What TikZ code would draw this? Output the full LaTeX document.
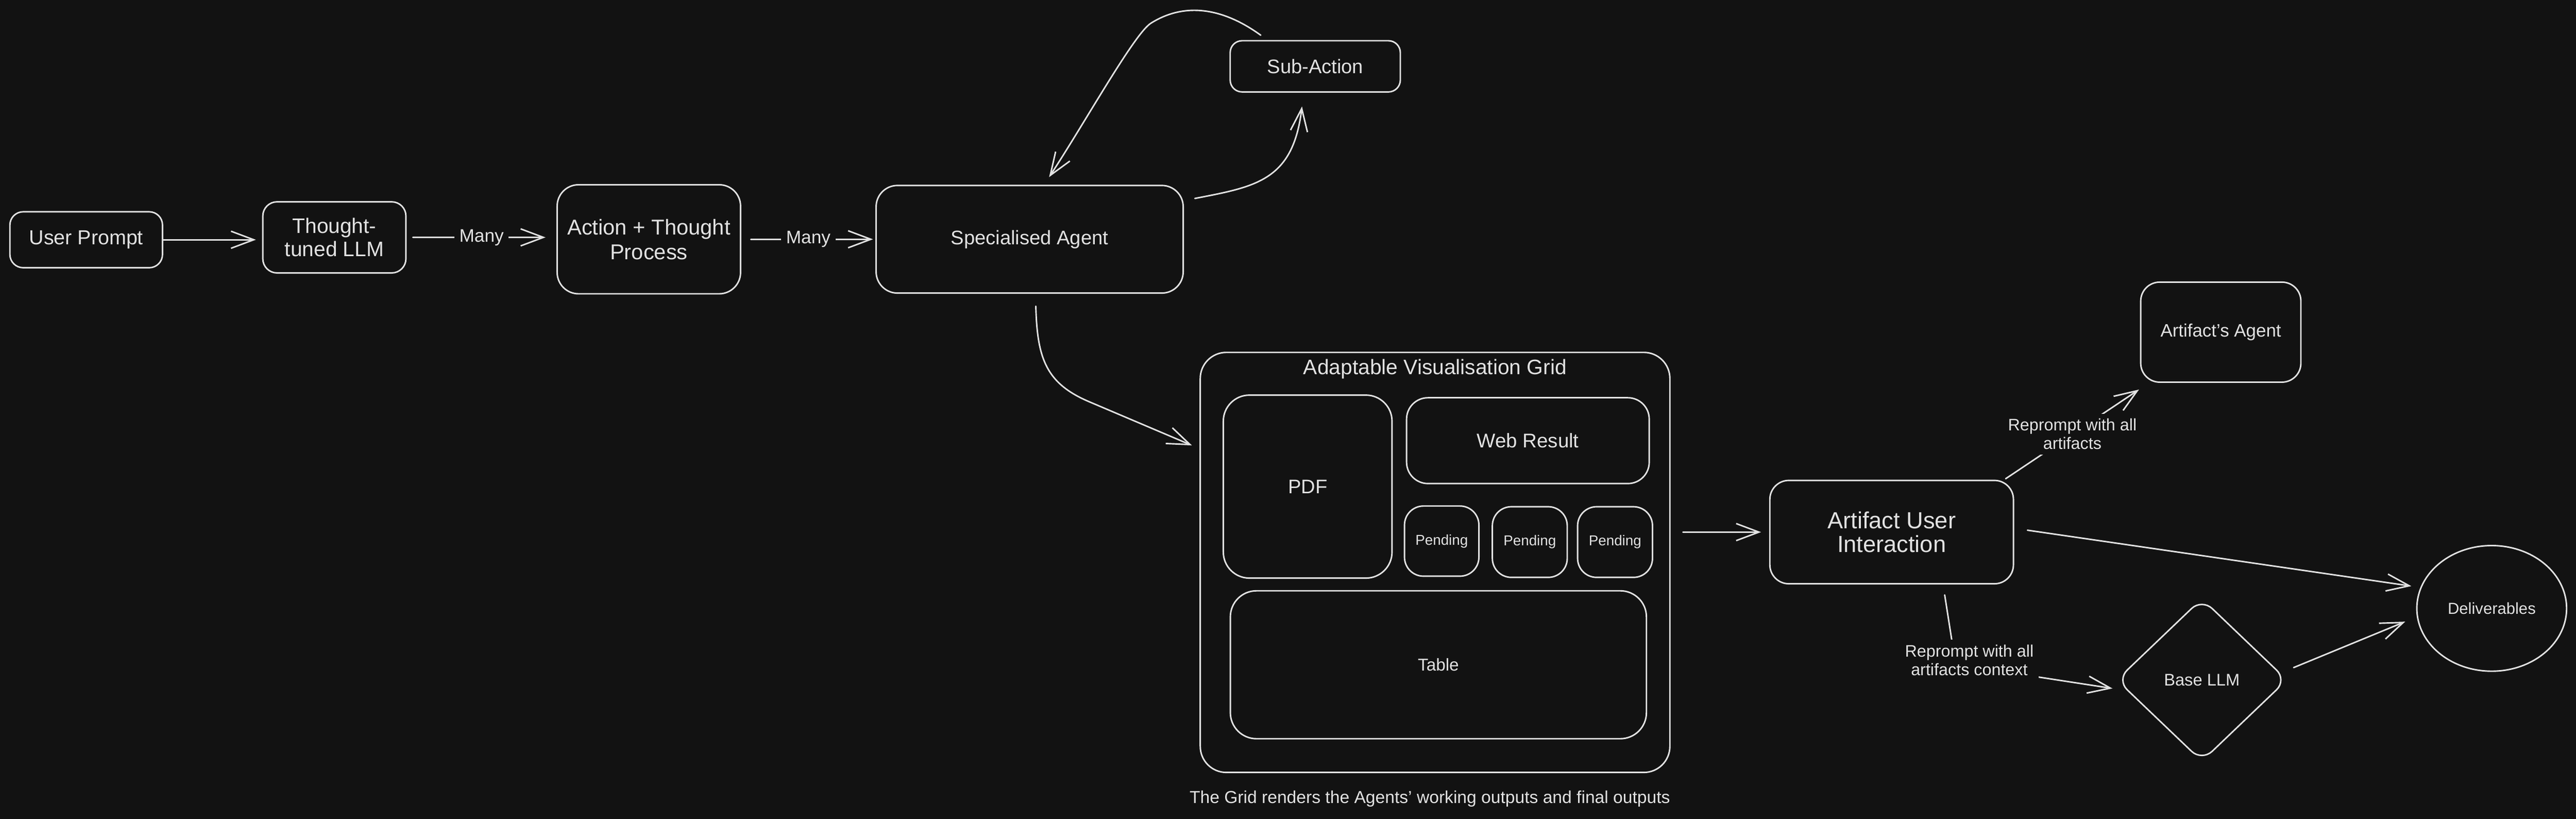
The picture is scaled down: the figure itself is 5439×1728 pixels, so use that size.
\documentclass[tikz,border=0pt]{standalone}
\usepackage{fontspec}
\setmainfont{Liberation Sans}
\usetikzlibrary{arrows.meta,shapes.geometric,calc}
\definecolor{bg}{HTML}{121212}
\definecolor{fg}{HTML}{E2E2E2}
\tikzset{
  box/.style={draw=fg, line width=0.9pt, rounded corners=0.4cm, text=fg, align=center, inner sep=0pt, fill=bg},
  arr/.style={draw=fg, line width=0.9pt, line cap=round, -{Straight Barb[length=0.48cm,width=0.36cm,line width=0.9pt]}},
  lab/.style={fill=bg, text=fg, inner sep=3pt, align=center},
}
\begin{document}
\begin{tikzpicture}[x=0.01cm,y=-0.01cm]
\useasboundingbox[fill=bg] (0,0) rectangle (5439,1728);

% top row
\node[box, minimum width=3.22cm, minimum height=1.18cm, rounded corners=0.28cm, font=\fontsize{12.2}{14}\selectfont] (up) at (182,506) {User Prompt};
\node[box, minimum width=3.02cm, minimum height=1.5cm, rounded corners=0.3cm, font=\fontsize{12.6}{13.8}\selectfont] (ttl) at (706,501) {Thought-\\tuned LLM};
\node[box, minimum width=3.87cm, minimum height=2.3cm, rounded corners=0.45cm, font=\fontsize{12.9}{14.8}\selectfont] (atp) at (1370,505) {Action + Thought\\Process};
\node[box, minimum width=6.48cm, minimum height=2.27cm, rounded corners=0.45cm, font=\fontsize{11.8}{14}\selectfont] (sa) at (2174,505) {Specialised Agent};
\node[box, minimum width=3.59cm, minimum height=1.08cm, rounded corners=0.25cm, font=\fontsize{11.8}{14}\selectfont] (sub) at (2777,140) {Sub-Action};

% grid
\node[box, minimum width=9.91cm, minimum height=8.86cm, rounded corners=0.55cm] (grid) at (3030,1187) {};
\node[text=fg, font=\fontsize{12.6}{14}\selectfont] (gt) at (3030,779) {Adaptable Visualisation Grid};
\node[box, minimum width=3.56cm, minimum height=3.86cm, rounded corners=0.55cm, font=\fontsize{11.8}{14}\selectfont] (pdf) at (2761,1027) {PDF};
\node[box, minimum width=5.12cm, minimum height=1.81cm, rounded corners=0.45cm, font=\fontsize{11.9}{14}\selectfont] (web) at (3226,930) {Web Result};
\node[box, minimum width=1.57cm, minimum height=1.48cm, rounded corners=0.4cm, font=\fontsize{8.6}{10}\selectfont] (p1) at (3044,1142) {Pending};
\node[box, minimum width=1.58cm, minimum height=1.49cm, rounded corners=0.4cm, font=\fontsize{8.6}{10}\selectfont] (p2) at (3230,1144) {Pending};
\node[box, minimum width=1.58cm, minimum height=1.49cm, rounded corners=0.4cm, font=\fontsize{8.6}{10}\selectfont] (p3) at (3410,1144) {Pending};
\node[box, minimum width=8.78cm, minimum height=3.12cm, rounded corners=0.55cm, font=\fontsize{10.3}{12}\selectfont] (table) at (3037,1403) {Table};
\node[text=fg, font=\fontsize{10.4}{12}\selectfont] (cap) at (3019,1686) {The Grid renders the Agents' working outputs and final outputs};

% right part
\node[box, minimum width=3.38cm, minimum height=2.11cm, rounded corners=0.4cm, font=\fontsize{10.8}{12}\selectfont] (aa) at (4689,701) {Artifact's Agent};
\node[box, minimum width=5.14cm, minimum height=2.18cm, rounded corners=0.4cm, font=\fontsize{14}{14.2}\selectfont] (aui) at (3994,1123) {Artifact User\\Interaction};
\node[box, diamond, minimum width=3.6cm, minimum height=3.44cm, rounded corners=0.3cm, font=\fontsize{10.1}{12}\selectfont] (base) at (4649,1435) {Base LLM};
\node[box, ellipse, minimum width=3.16cm, minimum height=2.65cm, font=\fontsize{9.6}{11}\selectfont] (del) at (5261,1284) {Deliverables};

% connectors
\draw[arr, shorten >=0.13cm] (up.east) -- (up.east -| ttl.west);
\draw[arr, shorten <=0.13cm, shorten >=0.23cm] (ttl.east) -- node[lab, font=\fontsize{10.9}{12}\selectfont]{Many} (ttl.east -| atp.west);
\draw[arr, shorten <=0.2cm, shorten >=0.05cm] (atp.east) -- node[lab, font=\fontsize{10.9}{12}\selectfont]{Many} (atp.east -| sa.west);

\coordinate (s1) at ($(sa.north east)+(23,29)$);
\coordinate (s2) at ($(sub.south)+(-28,29)$);
\draw[arr] (s1) .. controls +(129,-25) and +(-19,157) .. (s2);

\coordinate (s3) at ($(sub.north)+(-115,-10)$);
\coordinate (s4) at ($(sa.north)+(41,-16)$);
\draw[arr] (s3) .. controls (2580,15) and (2500,5) .. (2430,49) .. controls (2395,71) and (2290,260) .. (s4);

\coordinate (s5) at ($(sa.south)+(13,26)$);
\coordinate (s6) at ($(grid.west)+(-16,-247)$);
\draw[arr] (s5) .. controls +(3,110) and +(-92,-39) .. (2300,848) -- (s6);

\draw[arr, shorten <=0.26cm, shorten >=0.17cm] (grid.east |- aui.west) -- (aui.west);

\draw[arr] ($(aui.north east)+(-18,-2)$) -- node[lab, font=\fontsize{10}{11.2}\selectfont]{Reprompt with all\\artifacts} ($(aa.south west)+(-2,14)$);

\draw[arr] ($(aui.east)+(28,-4)$) -- ($(del.west)+(-10,-47)$);

\draw[arr] ($(aui.south)+(112,22)$) -- (4129,1402) node[lab, font=\fontsize{10}{11.2}\selectfont, xshift=0.29cm, yshift=0.09cm]{Reprompt with all\\artifacts context} -- ($(base.west)+(-7,18)$);

\draw[arr] ($(base.east)+(12,-26)$) -- ($(del.west)+(-23,28)$);
\end{tikzpicture}
\end{document}
